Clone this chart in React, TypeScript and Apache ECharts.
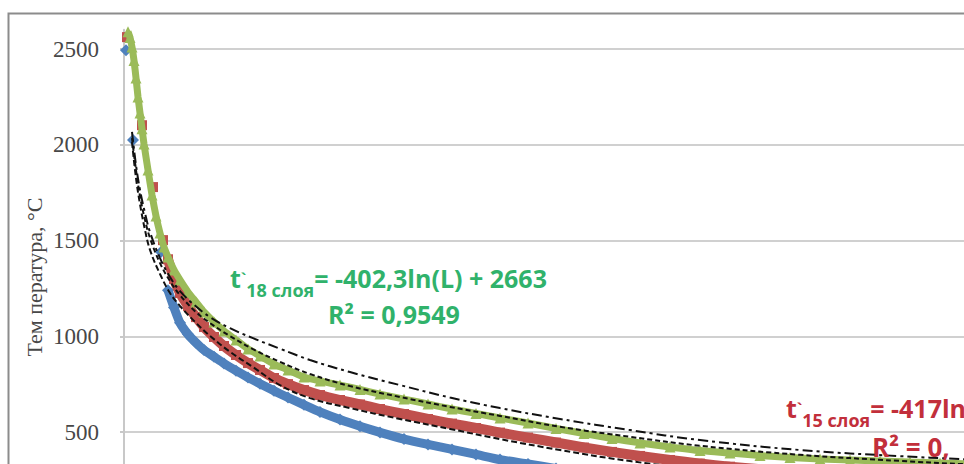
import React, { useEffect, useRef } from "react";
import * as echarts from "echarts";

// green series (line with markers)
const GREEN_L = [2, 3, 4, 5, 6, 7, 8, 9, 10, 12, 14, 16, 18, 20, 22, 25, 28, 32, 36, 40, 45, 50, 56, 62, 68, 75, 82, 90, 98, 108, 118, 128, 140, 152, 164, 176, 188, 202, 216, 230, 244, 258, 273, 288, 303, 318, 333, 348, 363, 378, 393, 408, 423, 438, 453];
const GREEN_T = [2590, 2560, 2510, 2440, 2349, 2250, 2166, 2083, 2004, 1868, 1738, 1628, 1539, 1466, 1414, 1346, 1294, 1231, 1179, 1127, 1075, 1028, 981, 934, 897, 855, 824, 787, 766, 745, 722, 698, 672, 646, 620, 597, 573, 547, 518, 492, 466, 443, 422, 403, 390, 377, 367, 359, 354, 349, 343, 338, 333, 328, 323];

// dense part of the red and blue series (markers only in the reference)
const BAND_L = [22, 25, 28, 32, 36, 40, 45, 50, 56, 62, 68, 75, 82, 90, 98, 108, 118, 128, 140, 152, 164, 176, 188, 202, 216, 230, 244, 258, 273, 288, 303, 318, 333, 348, 363, 378, 393, 408, 423, 438, 453];
const BLUE_T = [1240, 1150, 1070, 1010, 966, 928, 893, 858, 820, 785, 752, 715, 680, 642, 605, 565, 530, 498, 463, 435, 409, 383, 356, 333, 309, 289, 270, 252, 234, 218, 202, 189, 176, 166, 155, 145, 134, 127, 119, 111, 103];
const RED_T = [1402, 1299, 1226, 1158, 1100, 1048, 996, 949, 902, 860, 824, 782, 750, 719, 693, 667, 644, 620, 594, 568, 544, 521, 497, 471, 445, 419, 396, 375, 354, 335, 319, 306, 296, 285, 277, 270, 264, 260, 255, 249, 244];

// sparse first points (steep part of the curves)
const BLUE_TOP_L = [1, 4.5, 18.5];
const BLUE_TOP_T = [2494, 2025, 1440];
const RED_TOP_L = [1.5, 9, 14.5, 19.5];
const RED_TOP_T = [2562, 2102, 1779, 1502];

// logarithmic trend lines
const TREND_L = [4, 6, 8, 10.5, 13, 18, 23, 28, 35.5, 43, 53, 64.5, 78, 93, 113, 138, 163, 188, 218, 253, 288, 338, 388, 418, 458];
const TREND_A = [2067, 1894, 1764, 1644, 1544, 1408, 1309, 1236, 1160, 1100, 1042, 990, 935, 876, 813, 745, 680, 625, 568, 510, 458, 406, 374, 359, 343];
const TREND_B = [2035, 1868, 1732, 1607, 1513, 1382, 1288, 1215, 1131, 1069, 1001, 933, 866, 803, 740, 683, 631, 584, 527, 475, 428, 381, 349, 333, 317];
const TREND_C = [2014, 1826, 1690, 1555, 1451, 1325, 1226, 1158, 1075, 1002, 919, 839, 745, 677, 625, 568, 516, 463, 406, 348, 307, 265, 234, 218, 202];

const Y_TITLE = "Тем пература, °С";
const GREEN_EQ = { sub: "18 слоя", eq: "= -402,3ln(L) + 2663", r2: "R² = 0,9549" };
const RED_EQ = { sub: "15 слоя", eq: "= -417ln(L)", r2: "R² = 0," };

const pairs = (xs: number[], ys: number[]) => xs.map((x, i) => [x, ys[i]]);

const BLUE = "#4F81BD";
const RED = "#C0504D";
const GREEN = "#9BBB59";

export default function App() {
  const ref = useRef<HTMLDivElement>(null);
  useEffect(() => {
    if (!ref.current) return;
    const chart = echarts.init(ref.current, null, { renderer: "svg" });
    const sans = '"Open Sans", "Liberation Sans", sans-serif';
    const richStyles = (color: string) => ({
      t: { fontSize: 25, fontWeight: "bold", fontFamily: sans, fill: color, lineHeight: 42 },
      g: { fontSize: 15, fontWeight: "bold", fontFamily: sans, fill: color, lineHeight: 42, verticalAlign: "middle" },
      s: { fontSize: 18, fontWeight: "bold", fontFamily: sans, fill: color, lineHeight: 6, verticalAlign: "bottom" },
      m: { fontSize: 25, fontWeight: "bold", fontFamily: sans, fill: color, lineHeight: 42 },
    });
    const eqLine = (sub: string, eq: string, x: number, y: number, color: string) => ({
      type: "text",
      x,
      y,
      z: 100,
      style: {
        text: `{t|t}{g|\`}{s|${sub}}{m|${eq}}`,
        x: 0,
        y: 0,
        fill: color,
        rich: richStyles(color),
        textAlign: "left",
        textVerticalAlign: "middle",
        align: "left",
        verticalAlign: "middle",
      },
    });
    const txt = (text: string, x: number, y: number, size: number, color: string) => ({
      type: "text",
      x,
      y,
      z: 100,
      style: {
        text,
        x: 0,
        y: 0,
        fill: color,
        fontSize: size,
        fontWeight: "bold",
        fontFamily: sans,
        textAlign: "left",
        textVerticalAlign: "middle",
        align: "left",
        verticalAlign: "middle",
      },
    });
    const GREEN_TXT = "#30b26b";
    const RED_TXT = "#c22f3b";
    const trend = (ys: number[], dash: number[]) => ({
      type: "line",
      data: pairs(TREND_L, ys),
      showSymbol: false,
      symbol: "none",
      smooth: 0.4,
      clip: false,
      z: 5,
      lineStyle: { color: "#111", width: 2, type: dash },
    });
    const band = (xs: number[], ys: number[], color: string, symbol: string, size: number, width: number, z: number) => ({
      type: "line",
      data: pairs(xs, ys),
      symbol,
      symbolSize: size,
      showSymbol: true,
      smooth: 0.2,
      clip: false,
      z,
      lineStyle: { color, width },
      itemStyle: { color },
    });
    const dots = (xs: number[], ys: number[], color: string, symbol: string, size: number, z: number) => ({
      type: "scatter",
      data: pairs(xs, ys),
      symbol,
      symbolSize: size,
      clip: false,
      z,
      itemStyle: { color, opacity: 1 },
    });
    chart.setOption({
      animation: false,
      backgroundColor: "#ffffff",
      grid: { left: 124, top: 29.85, right: 76, bottom: 172.25, containLabel: false },
      xAxis: { type: "value", min: 0, max: 500, show: false, splitLine: { show: false } },
      yAxis: {
        type: "value",
        min: 0,
        max: 2600,
        interval: 500,
        axisLine: { show: true, lineStyle: { color: "#c8c8c8", width: 2 } },
        axisTick: { show: true, length: 4, lineStyle: { color: "#c8c8c8", width: 2 } },
        axisLabel: {
          margin: 25,
          fontFamily: '"Liberation Serif", "DejaVu Serif", serif',
          fontSize: 23,
          color: "#474747",
          showMaxLabel: false,
          showMinLabel: false,
          formatter: (v: number) => String(v),
        },
        splitLine: { show: true, showMaxLine: false, lineStyle: { color: "#d0d0d0", width: 2 } },
      },
      series: [
        dots(BLUE_TOP_L, BLUE_TOP_T, BLUE, "diamond", 12, 2),
        band(BAND_L, BLUE_T, BLUE, "diamond", 12, 9, 2),
        dots(RED_TOP_L, RED_TOP_T, RED, "rect", 10, 3),
        band(BAND_L, RED_T, RED, "rect", 10, 10, 3),
        band(GREEN_L, GREEN_T, GREEN, "triangle", 11, 7, 4),
        trend(TREND_A, [10, 4, 3, 4]),
        trend(TREND_B, [5, 3]),
        trend(TREND_C, [6, 3]),
      ],
      graphic: [
        {
          type: "rect",
          z: 200,
          shape: { x: 8.5, y: 13.5, width: 1400, height: 900 },
          style: { fill: "none", stroke: "#8c8c8c", lineWidth: 2 },
          silent: true,
        },
        {
          type: "text",
          x: 34,
          y: 277,
          rotation: Math.PI / 2,
          z: 100,
          style: {
            text: Y_TITLE,
            x: 0,
            y: 0,
            fill: "#474747",
            fontSize: 22,
            fontFamily: '"Liberation Serif", "DejaVu Serif", serif',
            textAlign: "center",
            textVerticalAlign: "middle",
            align: "center",
            verticalAlign: "middle",
          },
        },
        eqLine(GREEN_EQ.sub, GREEN_EQ.eq, 230, 278, GREEN_TXT),
        txt(GREEN_EQ.r2, 328, 314, 25, GREEN_TXT),
        eqLine(RED_EQ.sub, RED_EQ.eq, 786, 408, RED_TXT),
        txt(RED_EQ.r2, 872, 447, 26, RED_TXT),
      ],
    });
    return () => chart.dispose();
  }, []);
  return (
    <div style={{ position: "fixed", left: 0, top: 0, width: 964, height: 464, overflow: "hidden", background: "#fff" }}>
      <div ref={ref} style={{ width: 1200, height: 700 }} />
    </div>
  );
}
